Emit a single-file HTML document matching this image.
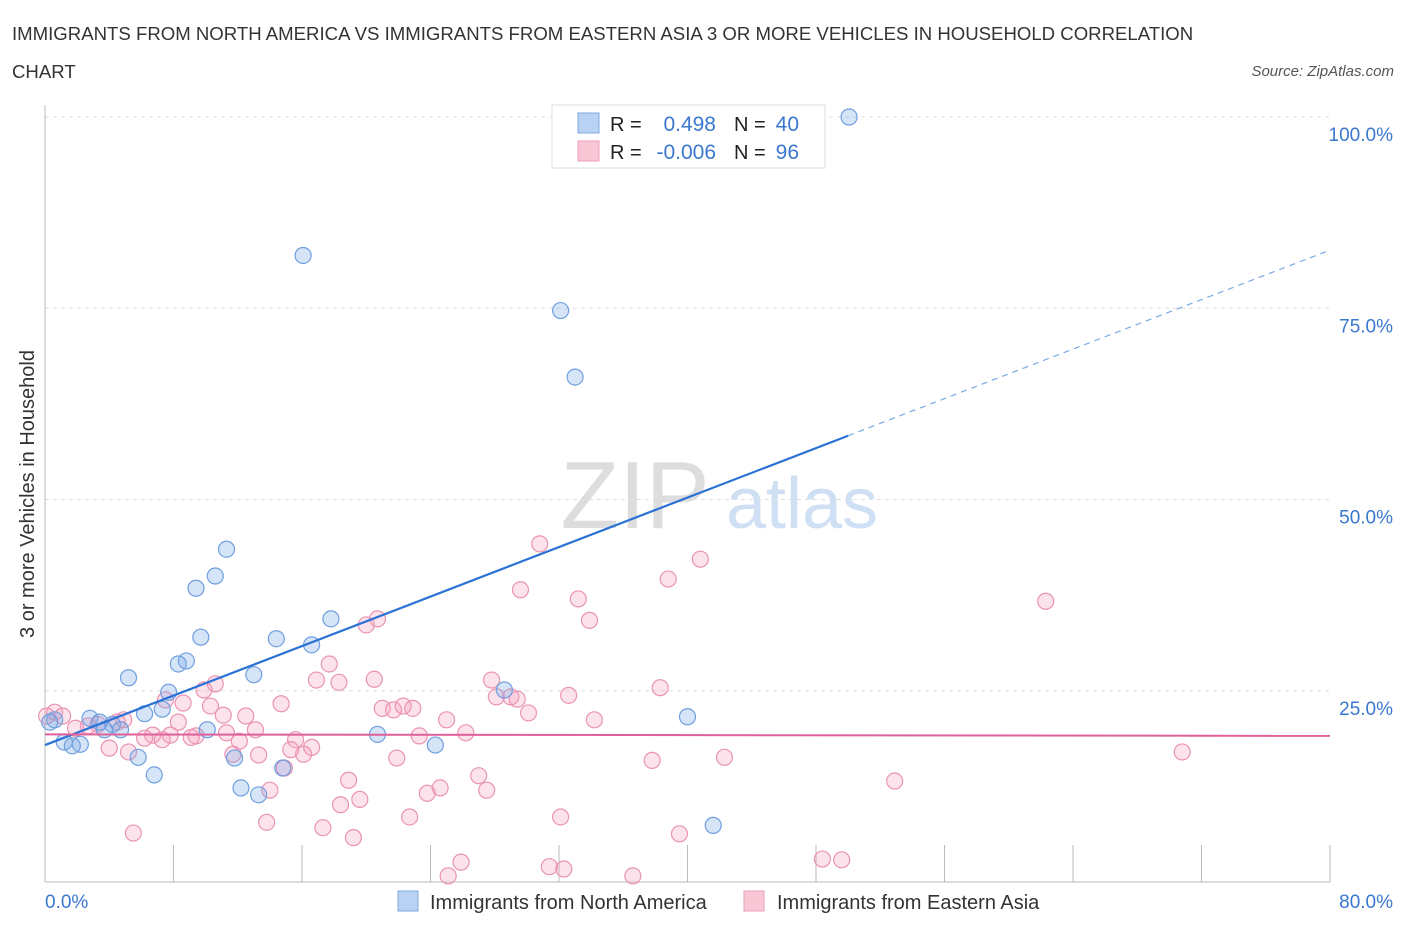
<!DOCTYPE html>
<html><head><meta charset="utf-8"><style>
body{margin:0;background:#fff;font-family:"Liberation Sans",sans-serif;}
svg text{font-family:"Liberation Sans",sans-serif;}
</style></head><body>
<svg id="chart" width="1406" height="930" xmlns="http://www.w3.org/2000/svg">
<text x="12" y="40" font-size="18.6" fill="#333">IMMIGRANTS FROM NORTH AMERICA VS IMMIGRANTS FROM EASTERN ASIA 3 OR MORE VEHICLES IN HOUSEHOLD CORRELATION</text>
<text x="12" y="78" font-size="18.6" fill="#333">CHART</text>
<text x="1394" y="76" font-size="15" fill="#555" font-style="italic" text-anchor="end">Source: ZipAtlas.com</text>
<text x="635" y="528" font-size="96" fill="#ddd" font-family="Liberation Serif" text-anchor="middle">ZIP</text>
<text x="802" y="528" font-size="72" fill="#cfe0f5" text-anchor="middle">atlas</text>
<g id="grid"></g><g id="axes"></g><g id="marks"></g>
<text transform="translate(34,494) rotate(-90)" font-size="20" fill="#333" text-anchor="middle">3 or more Vehicles in Household</text>
<text x="45" y="908" font-size="19" fill="#3a78d0">0.0%</text>
<text x="1393" y="908" font-size="19" fill="#3a78d0" text-anchor="end">80.0%</text>
<g>
<rect x="552" y="105" width="273" height="63" fill="#fff" stroke="#ddd"/>
<rect x="578" y="113" width="21" height="20" fill="#b8d2f3" stroke="#7fa8e0"/>
<rect x="578" y="141" width="21" height="20" fill="#f8c6d5" stroke="#eba0b8"/>
<text x="610" y="131" font-size="20" fill="#222">R =</text><text x="716" y="131" font-size="21" fill="#3a78d0" text-anchor="end">0.498</text>
<text x="734" y="131" font-size="20" fill="#222">N =</text><text x="799" y="131" font-size="21" fill="#3a78d0" text-anchor="end">40</text>
<text x="610" y="159" font-size="20" fill="#222">R =</text><text x="716" y="159" font-size="21" fill="#3a78d0" text-anchor="end">-0.006</text>
<text x="734" y="159" font-size="20" fill="#222">N =</text><text x="799" y="159" font-size="21" fill="#3a78d0" text-anchor="end">96</text>
</g>
<g>
<rect x="398" y="891" width="20" height="20" fill="#b8d2f3" stroke="#7fa8e0"/>
<text x="430" y="909" font-size="20" fill="#333">Immigrants from North America</text>
<rect x="744" y="891" width="20" height="20" fill="#f8c6d5" stroke="#eba0b8"/>
<text x="777" y="909" font-size="20" fill="#333">Immigrants from Eastern Asia</text>
</g>
</svg>
<script>
const yTicks=[25,50,75,100];
const yTickLabels=["25.0%","50.0%","75.0%","100.0%"];
const xTicks=[0,8,16,24,32,40,48,56,64,72,80];
const blueX=[50.06,16.07,32.1,33.0,11.3,10.6,9.4,9.7,14.4,16.6,17.8,8.8,8.3,5.2,13.0,7.7,7.3,6.2,28.6,40.0,10.1,20.7,24.3,11.8,5.8,6.8,12.2,13.3,14.8,41.6,0.6,2.8,3.4,4.2,4.7,3.7,1.2,2.2,1.7,0.3];
const blueY=[100,81.9,74.7,66.0,43.5,40.0,38.4,32.0,31.8,31.0,34.4,28.9,28.5,26.7,27.1,24.8,22.6,22.0,25.1,21.6,19.9,19.3,17.9,16.2,16.3,14.0,12.3,11.4,14.9,7.4,21.2,21.4,20.9,20.6,19.9,19.9,18.3,18.0,17.8,20.9];
const pinkX=[30.8,40.8,38.8,29.6,33.2,33.9,20.7,20.0,62.3,17.7,27.8,18.3,20.5,16.9,10.6,9.9,38.3,32.6,28.1,29.0,29.4,21.0,21.7,22.3,22.9,14.7,10.3,8.6,7.5,30.1,34.2,25.0,12.5,11.1,8.3,4.9,4.5,3.3,2.7,1.9,1.1,0.6,0.1,13.1,11.3,9.4,9.1,7.8,6.7,6.2,7.3,26.2,23.3,15.6,12.1,15.3,16.6,16.1,13.3,11.7,4.0,5.2,21.9,37.8,42.3,70.8,27.0,18.9,14.9,27.5,24.6,23.8,19.6,18.4,14.0,52.9,13.8,22.7,32.1,17.3,19.2,5.5,39.5,25.9,31.4,32.3,36.6,48.4,49.6,25.1];
const pinkY=[44.2,42.2,39.6,38.2,37.0,34.2,34.4,33.6,36.7,28.5,26.4,26.1,26.5,26.4,25.9,25.1,25.4,24.4,24.2,24.2,23.9,22.7,22.5,23.0,22.7,23.3,23.0,23.4,23.8,22.1,21.2,21.2,21.7,21.8,20.9,21.2,20.9,20.6,20.4,20.1,21.7,22.2,21.7,19.9,19.5,19.1,18.9,19.2,19.2,18.8,18.6,19.5,19.1,18.6,18.4,17.3,17.6,16.7,16.6,16.7,17.5,17.0,16.2,15.9,16.3,17.0,13.9,13.3,14.9,12.0,12.3,11.6,10.8,10.1,12.0,13.2,7.8,8.5,8.5,7.1,5.8,6.4,6.3,2.6,2.0,1.7,0.8,3.0,2.9,0.8];
const blueTrend=[17.9,82.6];
const pinkTrend=[19.3,19.1];
const NS="http://www.w3.org/2000/svg";
const X=v=>45+v*(1330-45)/80;
const Y=v=>882-v*(882-117)/100;
function mk(t,a,p){const e=document.createElementNS(NS,t);for(const k in a)e.setAttribute(k,a[k]);p.appendChild(e);return e;}
const grid=document.getElementById('grid'),axes=document.getElementById('axes'),marks=document.getElementById('marks');
yTicks.forEach((t,i)=>{
 const l=mk('line',{x1:45,x2:1330,y1:Y(t),y2:Y(t),stroke:'#ddd','stroke-dasharray':'4,4'},grid);
 
 
 const tx=mk('text',{x:1393,y:Y(t)+24,'font-size':19,fill:'#3a78d0','text-anchor':'end'},axes);
 tx.textContent=yTickLabels[i];
 
 
});
const ax=mk('line',{x1:45,x2:1330,y1:882,y2:882,stroke:'#bbb'},axes);


const ay=mk('line',{x1:45,x2:45,y1:105,y2:882,stroke:'#bbb'},axes);


xTicks.forEach(t=>{
 const l=mk('line',{x1:X(t),x2:X(t),y1:845,y2:882,stroke:'#bbb'},axes);
 
 
});
pinkX.forEach((x,i)=>{
 const c=mk('circle',{cx:X(x),cy:Y(pinkY[i]),r:8,fill:'rgba(244,160,190,0.3)',stroke:'#ea93b3','stroke-width':1.2},marks);
 
 
});
blueX.forEach((x,i)=>{
 const c=mk('circle',{cx:X(x),cy:Y(blueY[i]),r:8,fill:'rgba(120,165,230,0.3)',stroke:'#6f9fe0','stroke-width':1.2},marks);
 
 
});
const bAt=x=>blueTrend[0]+(blueTrend[1]-blueTrend[0])*x/80;
const bl=mk('line',{x1:X(0),y1:Y(bAt(0)),x2:X(50),y2:Y(bAt(50)),stroke:'#2a72d4','stroke-width':2.2},marks);


const bd=mk('line',{x1:X(50),y1:Y(bAt(50)),x2:X(80),y2:Y(bAt(80)),stroke:'#7aa8e6','stroke-width':1.2,'stroke-dasharray':'6,5'},marks);


const pl=mk('line',{x1:X(0),y1:Y(pinkTrend[0]),x2:X(80),y2:Y(pinkTrend[1]),stroke:'#e0609a','stroke-width':2},marks);


</script>
</body></html>
